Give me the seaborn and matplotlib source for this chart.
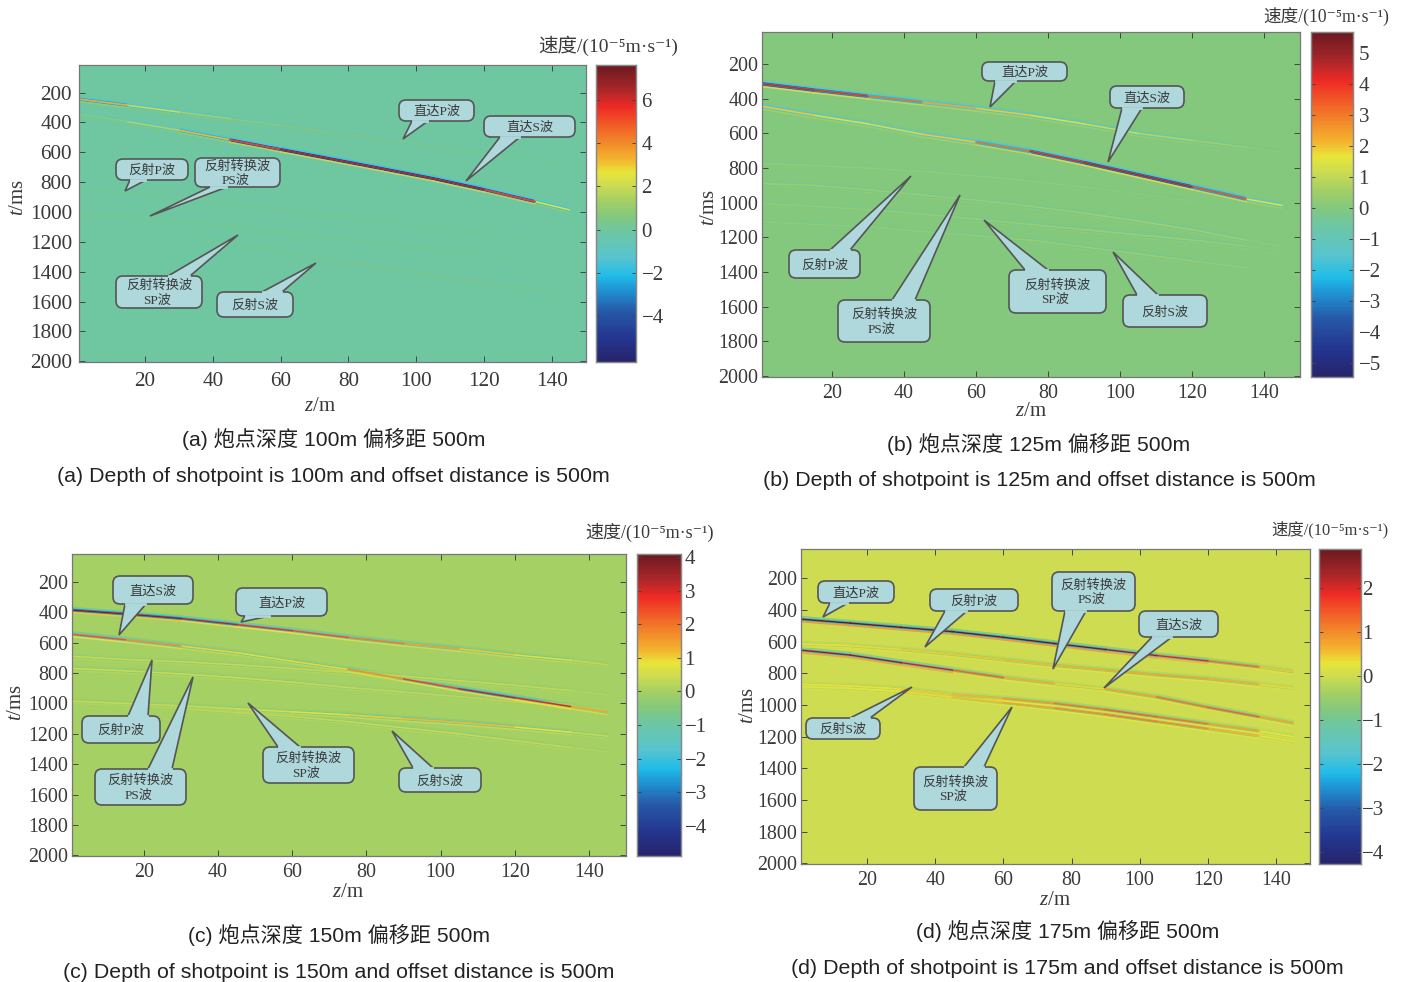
import numpy as np
import pandas as pd
import matplotlib
matplotlib.use("Agg")
import matplotlib.pyplot as plt
import seaborn as sns
from matplotlib.colors import LinearSegmentedColormap, Normalize
from matplotlib.patches import FancyBboxPatch, Polygon
from matplotlib.transforms import Affine2D

W, H = 1403, 982

# shared trace positions of the read-off knots
z_knots = [1, 15, 30, 45, 60, 75, 90, 105, 120, 135, 145]

# panel (a)
a_direct_t = [245, 285, 330, 375, 420, 465, 510, 555, 600, 645, 675]
a_direct_amp = [5, 3, 2, 1.2, 0.8, 0.6, 0.5, 0.4, 0.3, 0.2, 0]
a_main_t = [345, 395, 452, 516, 581, 645, 710, 776, 850, 930, 985]
a_main_amp = [0.8, 1.2, 2.5, 5, 7.5, 7.5, 7.5, 7.5, 7.5, 5, 1]
a_refl1_t = [850, 870, 900, 940, 980, 1020, 1060, 1100, 1140, 1180, 1210]
a_refl1_amp = [0.3, 0.3, 0.3, 0.3, 0.3, 0.2, 0.2, 0.2, 0.1, 0, 0]
a_refl2_t = [1020, 1030, 1060, 1090, 1130, 1170, 1210, 1250, 1290, 1330, 1360]
a_refl2_amp = [0.3, 0.3, 0.3, 0.3, 0.3, 0.3, 0.2, 0.2, 0.1, 0, 0]
a_refl3_t = [1100, 1130, 1170, 1210, 1260, 1320, 1370, 1420, 1470, 1520, 1550]
a_refl3_amp = [0, 0, 0, 0.2, 0.2, 0.4, 0.5, 0.6, 0.5, 0.2, 0]

# panel (b)
b_direct_t = [315, 350, 385, 420, 455, 495, 545, 600, 640, 680, 710]
b_direct_amp = [5.5, 5, 4.5, 3, 2.5, 2, 1.5, 1.2, 0.8, 0.4, 0]
b_main_t = [445, 495, 545, 605, 650, 703, 768, 838, 908, 978, 1015]
b_main_amp = [2.5, 2, 1.5, 1.5, 3, 4.5, 5.5, 5.5, 5.5, 3, 0.5]
b_refl1_t = [775, 785, 800, 820, 845, 875, 910, 950, 990, 1035, 1065]
b_refl1_amp = [0.3, 0.3, 0.3, 0.3, 0.3, 0.25, 0.25, 0.2, 0.1, 0, 0]
b_refl2_t = [890, 900, 925, 955, 985, 1020, 1060, 1105, 1155, 1215, 1250]
b_refl2_amp = [0.5, 0.5, 0.5, 0.5, 0.5, 0.5, 0.6, 0.7, 0.7, 0.5, 0]
b_refl3_t = [1005, 1020, 1040, 1065, 1095, 1125, 1155, 1185, 1215, 1250, 1275]
b_refl3_amp = [0.3, 0.3, 0.35, 0.4, 0.5, 0.5, 0.6, 0.6, 0.6, 0.35, 0]
b_refl4_t = [1110, 1125, 1140, 1165, 1190, 1215, 1255, 1295, 1335, 1375, 1405]
b_refl4_amp = [0.25, 0.25, 0.25, 0.3, 0.35, 0.5, 0.55, 0.55, 0.5, 0.25, 0]

# panel (c)
c_direct_t = [385, 410, 440, 480, 520, 565, 605, 640, 680, 715, 745]
c_direct_amp = [4.4, 4.4, 4.2, 3.5, 3, 2.5, 2, 1.5, 1, 0.6, 0.1]
c_main_t = [545, 580, 622, 665, 722, 775, 838, 903, 962, 1020, 1057]
c_main_amp = [3, 2.5, 1.5, 0.8, 0.7, 1.5, 2.5, 3.5, 4, 3, 0.3]
c_refl1_t = [690, 710, 725, 745, 770, 795, 820, 850, 880, 915, 945]
c_refl1_amp = [0.4, 0.4, 0.4, 0.4, 0.4, 0.4, 0.4, 0.4, 0.4, 0.3, 0.05]
c_refl2_t = [770, 785, 805, 830, 860, 895, 925, 955, 990, 1020, 1040]
c_refl2_amp = [0.5, 0.5, 0.5, 0.5, 0.45, 0.4, 0.35, 0.3, 0.3, 0.2, 0]
c_refl3_t = [985, 1000, 1015, 1035, 1055, 1075, 1100, 1125, 1155, 1190, 1215]
c_refl3_amp = [0.4, 0.4, 0.45, 0.5, 0.7, 1, 1.4, 1.4, 1.3, 0.7, 0.15]
c_refl4_t = [1000, 1015, 1035, 1060, 1085, 1120, 1160, 1200, 1245, 1290, 1320]
c_refl4_amp = [0, 0.2, 0.25, 0.35, 0.35, 0.4, 0.5, 0.5, 0.4, 0.3, 0]

# panel (d)
d_direct_t = [459, 483, 510, 537, 573, 612, 650, 688, 722, 760, 790]
d_direct_amp = [3.4, 3.4, 3.4, 3.4, 3.4, 3.4, 3.2, 2.6, 2, 1, 0.2]
d_refl1_t = [615, 625, 650, 680, 715, 750, 780, 810, 835, 870, 895]
d_refl1_amp = [0.4, 0.4, 0.5, 0.6, 0.6, 0.8, 0.8, 0.9, 0.9, 0.7, 0.2]
d_main_t = [655, 685, 733, 780, 827, 865, 900, 950, 1015, 1075, 1115]
d_main_amp = [3, 3, 3, 2, 1.2, 0.4, 0.6, 1.2, 1.6, 1.6, 0.2]
d_refl2_t = [870, 880, 900, 935, 960, 990, 1030, 1075, 1120, 1165, 1200]
d_refl2_amp = [0.3, 0.3, 0.5, 0.6, 0.9, 1.2, 1.6, 1.6, 1.3, 0.6, 0.1]
d_refl3_t = [885, 895, 915, 950, 985, 1020, 1060, 1105, 1150, 1195, 1230]
d_refl3_amp = [0.25, 0.25, 0.4, 0.5, 0.8, 1, 1.3, 1.3, 1, 0.5, 0.1]

# colour bar limits and tick labels of each panel
a_limits = (-6.1, 7.6)
b_limits = (-5.45, 5.68)
c_limits = (-4.9, 4.09)
d_limits = (-4.27, 2.89)
a_cbar_ticks = [-4, -2, 0, 2, 4, 6]
b_cbar_ticks = [-5, -4, -3, -2, -1, 0, 1, 2, 3, 4, 5]
c_cbar_ticks = [-4, -3, -2, -1, 0, 1, 2, 3, 4]
d_cbar_ticks = [-4, -3, -2, -1, 0, 1, 2]

z_ticks = [20, 40, 60, 80, 100, 120, 140]
t_ticks = [200, 400, 600, 800, 1000, 1200, 1400, 1600, 1800, 2000]

# one wave event is drawn as parallel strands around its travel time
strand_offsets = [-16, -8, 0, 8, 16]
strand_factors = [-0.2, -0.6, 0.85, -0.6, 0.25]

colour_stops = [
    (0.0, "#26246b"), (0.08, "#23358f"), (0.17, "#2659a8"), (0.25, "#1f9ad8"),
    (0.29, "#20bde8"), (0.35, "#58c4cf"), (0.445, "#6fc7a0"), (0.49, "#83c87d"),
    (0.545, "#a5d064"), (0.596, "#cddc50"), (0.64, "#e8e53a"), (0.68, "#f3b62e"),
    (0.76, "#f27a28"), (0.86, "#ee2a24"), (0.92, "#a8262a"), (1.0, "#6b1a20"),
]
seismic_cmap = LinearSegmentedColormap.from_list("seismic_bar", colour_stops)

plt.rcParams["font.family"] = ["Liberation Serif", "Noto Sans CJK SC", "DejaVu Sans"]
plt.rcParams["mathtext.fontset"] = "custom"
plt.rcParams["mathtext.rm"] = "Liberation Serif"
plt.rcParams["mathtext.it"] = "Liberation Serif:italic"

TEXT = "#3a3a3a"
EDGE = "#555555"
BOX = "#aed8dc"
SANS = ["Liberation Sans", "Noto Sans CJK SC"]

fig = plt.figure(figsize=(W / 100, H / 100), dpi=100)
# draws in reference pixels, y going down
px = Affine2D().scale(1, -1).translate(0, H)


def wave_frame(events):
    rows = []
    seg = 0
    for t_vals, amp_vals in events:
        for off, factor in zip(strand_offsets, strand_factors):
            for i in range(len(z_knots) - 1):
                if amp_vals[i] == 0 and amp_vals[i + 1] == 0:
                    continue
                value = factor * (amp_vals[i] + amp_vals[i + 1]) / 2
                rows.append((z_knots[i], t_vals[i] + off, value, seg))
                rows.append((z_knots[i + 1], t_vals[i + 1] + off, value, seg))
                seg += 1
    return pd.DataFrame(rows, columns=["z", "t", "value", "seg"])


def callout(lines, box, tip, base):
    x0, y0, x1, y1 = box
    fig.add_artist(FancyBboxPatch((x0, y0), x1 - x0, y1 - y0, boxstyle="round,pad=0,rounding_size=7",
                                  fc=BOX, ec=EDGE, lw=1.2, transform=px, zorder=5))
    edge_y = y0 if tip[1] < y0 else y1
    fig.add_artist(Polygon([(base[0], edge_y), tip, (base[1], edge_y)], closed=False,
                           fc=BOX, ec=EDGE, lw=1.2, transform=px, zorder=6))
    fig.add_artist(plt.Line2D([base[0] + 1, base[1] - 1], [edge_y, edge_y], color=BOX, lw=2,
                              transform=px, zorder=7))
    cx = (x0 + x1) / 2
    cy = (y0 + y1) / 2 + 1.5
    if len(lines) == 1:
        fig.text(cx, cy, lines[0], transform=px, ha="center", va="center", fontsize=9.5,
                 color=TEXT, zorder=8)
    else:
        fig.text(cx, cy - 7.5, lines[0], transform=px, ha="center", va="center", fontsize=9.5,
                 color=TEXT, zorder=8)
        fig.text(cx - 2, cy + 7, lines[1], transform=px, ha="center", va="center", fontsize=9.5,
                 color=TEXT, zorder=8)


def draw_panel(ax_box, cbar_box, limits, cbar_ticks, events, xlabel_x, xpad, ylabel_y, ypad,
               title_at, title_size, x_tick_pad, y_tick_pad, tick_size, cbar_pad):
    l, t, r, b = ax_box
    ax = fig.add_axes([l / W, 1 - b / H, (r - l) / W, (b - t) / H])
    cl, ct, cr, cb = cbar_box
    cax = fig.add_axes([cl / W, 1 - cb / H, (cr - cl) / W, (cb - ct) / H])

    # one cell per trace and per millisecond, so cell positions are z and t
    sns.heatmap(np.zeros((2010, 150)), vmin=limits[0], vmax=limits[1], cmap=seismic_cmap,
                ax=ax, cbar_ax=cax, xticklabels=False, yticklabels=False)
    sns.lineplot(data=wave_frame(events), x="z", y="t", hue="value", units="seg", estimator=None,
                 palette=seismic_cmap, hue_norm=Normalize(limits[0], limits[1]), legend=False,
                 sort=False, lw=1.1, ax=ax)

    ax.set_xlim(0.6, 150)
    ax.set_ylim(2005, 15)
    ax.set_xticks(z_ticks, [str(v) for v in z_ticks])
    ax.set_yticks(t_ticks, [str(v) for v in t_ticks])
    ax.tick_params(direction="in", top=True, right=True, length=4, width=0.7, color="#444444",
                   labelsize=tick_size, labelcolor=TEXT)
    ax.tick_params(axis="x", pad=x_tick_pad)
    ax.tick_params(axis="y", pad=y_tick_pad)
    for s in ax.spines.values():
        s.set_visible(True)
        s.set_color("#777777")
        s.set_linewidth(0.9)

    # lineplot hid the axis labels because the heatmap had no tick labels yet
    ax.set_xlabel(r"$\mathit{z}$/m", fontsize=15, color=TEXT, labelpad=xpad, visible=True,
                  x=(xlabel_x - l) / (r - l))
    ax.set_ylabel(r"$\mathit{t}$/ms", fontsize=15, color=TEXT, labelpad=ypad, visible=True,
                  y=(b - ylabel_y) / (b - t))

    cbar = ax.collections[0].colorbar
    cbar.set_ticks(cbar_ticks, labels=[str(v).replace("-", "\u2212") for v in cbar_ticks])
    cax.tick_params(direction="in", left=True, right=True, length=3, width=0.7, color="#444444",
                    labelsize=15, labelcolor=TEXT, pad=cbar_pad)
    for s in cax.spines.values():
        s.set_visible(True)
        s.set_color("#888888")
        s.set_linewidth(0.9)
    fig.text(title_at[0], title_at[1], "速度/(10\u207b\u2075m·s\u207b\u00b9)", transform=px, ha="center",
             va="center", fontsize=title_size, color=TEXT)
    return ax


# panel (a)
draw_panel((79, 65, 586, 362), (596, 65, 636, 362), a_limits, a_cbar_ticks,
           [(a_refl1_t, a_refl1_amp), (a_refl2_t, a_refl2_amp), (a_refl3_t, a_refl3_amp),
            (a_direct_t, a_direct_amp), (a_main_t, a_main_amp)],
           320, 4.5, 197, 1, (608, 46), 14, 7, 5, 15.3, 4)
callout(["直达P波"], (399, 100, 474, 121), (403, 139), (412, 428))
callout(["直达S波"], (484, 116, 575, 137), (466, 181), (500, 520))
callout(["反射P波"], (116, 159, 188, 180), (125, 191), (130, 146))
callout(["反射转换波", "PS波"], (195, 158, 280, 187), (150, 216), (210, 227))
callout(["反射转换波", "SP波"], (116, 276, 202, 308), (238, 235), (168, 190))
callout(["反射S波"], (217, 292, 293, 317), (316, 263), (262, 282))

# panel (b)
draw_panel((762, 32, 1300, 377), (1311, 32, 1353, 377), b_limits, b_cbar_ticks,
           [(b_refl1_t, b_refl1_amp), (b_refl2_t, b_refl2_amp), (b_refl3_t, b_refl3_amp),
            (b_refl4_t, b_refl4_amp), (b_direct_t, b_direct_amp), (b_main_t, b_main_amp)],
           1031, -1, 207, 0, (1326, 17), 12.7, 5, 2.5, 14.4, 4)
callout(["直达P波"], (982, 62, 1067, 81), (990, 107), (995, 1016))
callout(["直达S波"], (1110, 86, 1184, 108), (1108, 162), (1122, 1142))
callout(["反射P波"], (789, 250, 860, 278), (911, 176), (830, 850))
callout(["反射转换波", "PS波"], (838, 300, 930, 342), (960, 195), (892, 915))
callout(["反射转换波", "SP波"], (1009, 270, 1106, 313), (984, 220), (1025, 1048))
callout(["反射S波"], (1123, 295, 1207, 327), (1113, 252), (1137, 1158))

# panel (c)
draw_panel((72, 554, 626, 856), (637, 554, 681, 856), c_limits, c_cbar_ticks,
           [(c_refl1_t, c_refl1_amp), (c_refl2_t, c_refl2_amp), (c_refl3_t, c_refl3_amp),
            (c_refl4_t, c_refl4_amp), (c_direct_t, c_direct_amp), (c_main_t, c_main_amp)],
           348, 0.5, 702, 1.5, (650, 532), 13, 5, 2.5, 14.4, 2.5)
callout(["直达S波"], (113, 576, 193, 604), (119, 635), (125, 146))
callout(["直达P波"], (236, 588, 327, 616), (241, 622), (245, 270))
callout(["反射P波"], (82, 716, 160, 743), (152, 660), (128, 148))
callout(["反射转换波", "PS波"], (95, 769, 186, 805), (193, 677), (148, 172))
callout(["反射转换波", "SP波"], (263, 747, 354, 783), (248, 703), (278, 300))
callout(["反射S波"], (399, 768, 481, 792), (392, 731), (413, 433))

# panel (d)
draw_panel((801, 549, 1310, 864), (1319, 549, 1361, 864), d_limits, d_cbar_ticks,
           [(d_refl1_t, d_refl1_amp), (d_refl2_t, d_refl2_amp), (d_refl3_t, d_refl3_amp),
            (d_direct_t, d_direct_amp), (d_main_t, d_main_amp)],
           1055, 0.5, 705, 0, (1330, 530), 11.8, 5, 2.5, 14.4, 1)
callout(["直达P波"], (818, 581, 894, 603), (823, 617), (830, 848))
callout(["反射P波"], (930, 589, 1018, 611), (925, 647), (945, 967))
callout(["反射转换波", "PS波"], (1052, 572, 1135, 611), (1053, 669), (1065, 1086))
callout(["直达S波"], (1139, 611, 1218, 637), (1104, 688), (1152, 1172))
callout(["反射S波"], (806, 718, 880, 739), (912, 687), (850, 870))
callout(["反射转换波", "SP波"], (914, 767, 997, 810), (1012, 707), (964, 984))

# captions
captions = [
    ("(a) 炮点深度 100m 偏移距 500m", 334, 439, "(a) Depth of shotpoint is 100m and offset distance is 500m", 333, 477),
    ("(b) 炮点深度 125m 偏移距 500m", 1039, 444, "(b) Depth of shotpoint is 125m and offset distance is 500m", 1039, 481),
    ("(c) 炮点深度 150m 偏移距 500m", 339, 935, "(c) Depth of shotpoint is 150m and offset distance is 500m", 339, 973),
    ("(d) 炮点深度 175m 偏移距 500m", 1068, 931, "(d) Depth of shotpoint is 175m and offset distance is 500m", 1067, 969),
]
for zh, zx, zy, en, ex, ey in captions:
    fig.text(zx, zy, zh, transform=px, ha="center", va="center", fontsize=15.2, family=SANS, color="#222222")
    fig.text(ex, ey, en, transform=px, ha="center", va="center", fontsize=15.4, family=SANS, color="#222222")

fig.savefig("out.png", dpi=100)
